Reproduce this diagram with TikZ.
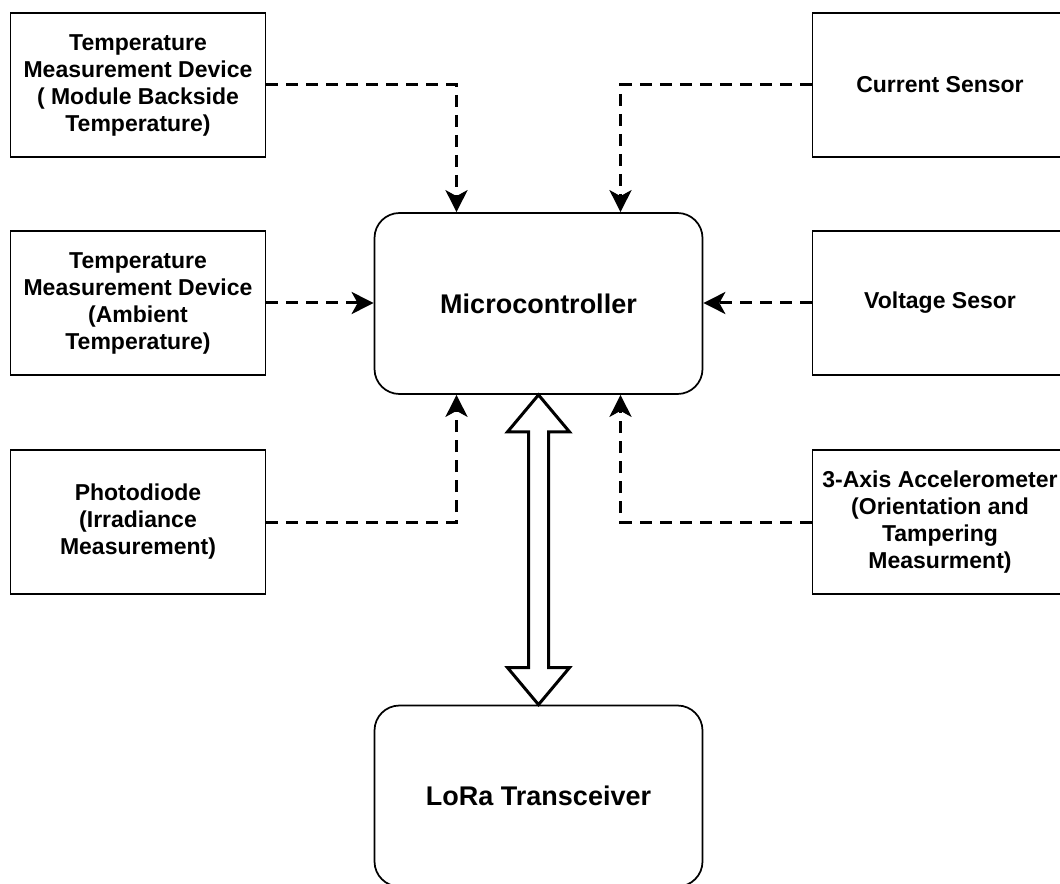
\documentclass[tikz,border=0pt]{standalone}
\usepackage{fontspec}
\setmainfont{Liberation Sans}
\usetikzlibrary{arrows.meta,calc}
\begin{document}
\begin{tikzpicture}[x=0.75pt,y=-0.75pt,
  sensor/.style={draw,line width=1.3pt,minimum width=191.25pt,minimum height=108pt,
    align=center,inner sep=2pt,font=\fontsize{17.25pt}{20.25pt}\selectfont\bfseries},
  unit/.style={draw,line width=1.3pt,rounded corners=18.75pt,minimum width=246pt,
    minimum height=135.75pt,align=center,font=\fontsize{20.25pt}{24pt}\selectfont\bfseries},
  link/.style={draw,line width=2.25pt,dash pattern=on 9pt off 6pt,
    -{Stealth[length=16.5pt,width=16.5pt,inset=4.5pt]}},
  bus/.style={draw,fill=white,line width=2.25pt,line join=miter}]
\useasboundingbox (0,0) rectangle (1060,884);
\clip (0,0) rectangle (1060,884);

% sensors on the left
\node[sensor] (tl) at (138,85) {Temperature\\Measurement Device\\( Module Backside\\Temperature)};
\node[sensor] (ml) at (138,303) {Temperature\\Measurement Device\\(Ambient\\Temperature)};
\node[sensor] (bl) at (138,522) {Photodiode\\(Irradiance\\Measurement)};

% sensors on the right
\node[sensor] (tr) at (940,85) {Current Sensor};
\node[sensor] (mr) at (940,303) {Voltage Sesor};
\node[sensor] (br) at (940,522) {3-Axis Accelerometer\\(Orientation and\\Tampering\\Measurment)};

% processing and radio
\node[unit] (mc) at (538.5,303.5) {Microcontroller};
\node[unit] (lora) at (538.5,796) {LoRa Transceiver};

% sensor signals into the microcontroller
\draw[link] (tl.east) -| ($(mc.north)+(-82,0)$);
\draw[link] (tr.west) -| ($(mc.north)+(82,0)$);
\draw[link] (ml.east) -- (mc.west |- ml.east);
\draw[link] (mr.west) -- (mc.east |- mr.west);
\draw[link] (bl.east) -| ($(mc.south)+(-82,0)$);
\draw[link] (br.west) -| ($(mc.south)+(82,0)$);

% two-way link between microcontroller and transceiver
\draw[bus] (mc.south) -- ++(31,37) -- ++(-21,0)
  -- ($(lora.north)+(10,-37)$) -- ++(21,0) -- (lora.north)
  -- ++(-31,-37) -- ++(21,0) -- ($(mc.south)+(-10,37)$) -- ++(-21,0) -- cycle;
\end{tikzpicture}
\end{document}
